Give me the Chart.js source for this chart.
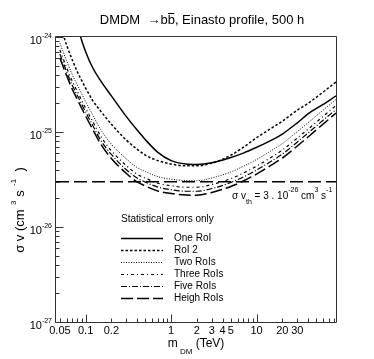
<!DOCTYPE html>
<html><head><meta charset="utf-8">
<script src="https://cdn.jsdelivr.net/npm/chart.js@4/dist/chart.umd.min.js"></script>
<style>html,body{margin:0;padding:0;background:#fff;overflow:hidden}</style>
</head><body><canvas id="c" width="374" height="359"></canvas>
<script>
// ---- data ----
const massOne = [0.08, 0.09, 0.1, 0.12, 0.15, 0.2, 0.3, 0.4, 0.5, 0.7, 1, 1.5, 2, 3, 5, 7, 10, 15, 20, 30, 40, 60, 85];
const oneRoI  = [1.35e-24, 9.2e-25, 7.0e-25, 4.8e-25, 3.45e-25, 2.4e-25, 1.45e-25, 1.05e-25, 8.3e-26, 6.1e-26, 5.0e-26, 4.6e-26, 4.55e-26, 4.75e-26, 5.4e-26, 6.0e-26, 6.9e-26, 8.2e-26, 9.5e-26, 1.25e-25, 1.55e-25, 1.95e-25, 2.4e-25];

const massAll = [0.05, 0.06, 0.07, 0.08, 0.1, 0.12, 0.15, 0.2, 0.3, 0.4, 0.5, 0.7, 1, 1.5, 2, 3, 5, 7, 10, 15, 20, 30, 40, 60, 85];
const roi2     = [1.34e-24, 8.2e-25, 5.7e-25, 4.3e-25, 2.9e-25, 2.17e-25, 1.66e-25, 1.21e-25, 8.2e-26, 6.6e-26, 5.7e-26, 5.0e-26, 4.6e-26, 4.4e-26, 4.4e-26, 4.7e-26, 5.7e-26, 6.9e-26, 8.7e-26, 1.1e-25, 1.3e-25, 1.7e-25, 2.0e-25, 2.63e-25, 3.36e-25];
const twoRoIs  = [8.6e-25, 5.6e-25, 4.0e-25, 3.13e-25, 2.09e-25, 1.53e-25, 1.06e-25, 7.45e-26, 5.2e-26, 4.23e-26, 3.83e-26, 3.39e-26, 3.19e-26, 3.08e-26, 3.07e-26, 3.28e-26, 3.8e-26, 4.35e-26, 5.13e-26, 6.4e-26, 7.55e-26, 1.01e-25, 1.25e-25, 1.7e-25, 2.2e-25];
const threeRoIs= [7.3e-25, 4.75e-25, 3.4e-25, 2.67e-25, 1.78e-25, 1.31e-25, 9.05e-26, 6.35e-26, 4.42e-26, 3.6e-26, 3.27e-26, 2.89e-26, 2.72e-26, 2.62e-26, 2.62e-26, 2.8e-26, 3.23e-26, 3.7e-26, 4.37e-26, 5.45e-26, 6.45e-26, 8.65e-26, 1.07e-25, 1.46e-25, 1.9e-25];
const fiveRoIs = [6.6e-25, 4.3e-25, 3.08e-25, 2.42e-25, 1.62e-25, 1.19e-25, 8.2e-26, 5.8e-26, 4.0e-26, 3.28e-26, 2.97e-26, 2.63e-26, 2.47e-26, 2.38e-26, 2.38e-26, 2.54e-26, 2.94e-26, 3.36e-26, 3.97e-26, 4.95e-26, 5.85e-26, 7.85e-26, 9.75e-26, 1.33e-25, 1.72e-25];
const heighRoIs= [6.0e-25, 3.9e-25, 2.8e-25, 2.2e-25, 1.47e-25, 1.08e-25, 7.48e-26, 5.26e-26, 3.66e-26, 2.98e-26, 2.7e-26, 2.39e-26, 2.25e-26, 2.17e-26, 2.16e-26, 2.31e-26, 2.67e-26, 3.05e-26, 3.61e-26, 4.5e-26, 5.32e-26, 7.13e-26, 8.86e-26, 1.21e-25, 1.58e-25];

const thresholdMass = [0.045, 85];
const thresholdValue = [3e-26, 3e-26];

const seriesNames = ["One RoI", "RoI 2", "Two RoIs", "Three RoIs", "Five RoIs", "Heigh RoIs"];

const xRange = [0.045, 85];
const yRange = [1e-27, 1e-24];
const xMajorTicks = [0.1, 1, 10];
const xMinorTicks = [0.05,0.06,0.07,0.08,0.09,0.2,0.3,0.4,0.5,0.6,0.7,0.8,0.9,2,3,4,5,6,7,8,9,20,30,40,50,60,70,80];
const xTickValues = [0.05, 0.1, 0.2, 1, 2, 3, 4, 5, 10, 20, 30];
const xTickLabels = ["0.05", "0.1", "0.2", "1", "2", "3", "4", "5", "10", "20", "30"];
const yMajorTicks = [1e-27, 1e-26, 1e-25, 1e-24];
const yTickExponents = ["-27", "-26", "-25", "-24"];
const yMinorMult = [2,3,4,5,6,7,8,9];

const FONT = "'Liberation Sans', Arial, Helvetica, sans-serif";

function pts(xs, ys){ return xs.map((x,i)=>({x:x, y:ys[i]})); }

function rich(ctx, parts, x, y, align){
  let w = 0;
  parts.forEach(p=>{ ctx.font = p.s + "px " + FONT; p.w = ctx.measureText(p.t).width; w += p.w; });
  let cx = align === 'center' ? x - w/2 : (align === 'right' ? x - w : x);
  parts.forEach(p=>{ ctx.font = p.s + "px " + FONT; ctx.textAlign='left'; ctx.textBaseline='alphabetic'; ctx.fillText(p.t, cx, y + (p.dy||0)); cx += p.w; });
  return w;
}

const decor = {
  id: 'decor',
  afterDraw(chart){
    const ctx = chart.ctx, xs = chart.scales.x, ys = chart.scales.y, a = chart.chartArea;
    ctx.save();
    ctx.fillStyle = '#000';
    ctx.strokeStyle = '#333';
    ctx.lineWidth = 1;
    const L = Math.round(a.left) - 0.5, R = Math.round(a.right) + 0.5, T = Math.round(a.top) - 0.5, B = Math.round(a.bottom) + 0.5;
    ctx.beginPath(); ctx.rect(L, T, R - L, B - T); ctx.stroke();
    // x ticks
    ctx.beginPath();
    xMajorTicks.forEach(v=>{ const px = Math.round(xs.getPixelForValue(v)) + 0.5; ctx.moveTo(px, B); ctx.lineTo(px, B - 8); });
    xMinorTicks.forEach(v=>{ const px = Math.round(xs.getPixelForValue(v)) + 0.5; ctx.moveTo(px, B); ctx.lineTo(px, B - 4); });
    // y ticks
    yMajorTicks.forEach(v=>{ const py = Math.round(ys.getPixelForValue(v)) + 0.5; ctx.moveTo(L, py); ctx.lineTo(L + 8, py); });
    yMajorTicks.slice(0,3).forEach(d=>{ yMinorMult.forEach(m=>{ const py = Math.round(ys.getPixelForValue(d*m)) + 0.5; ctx.moveTo(L, py); ctx.lineTo(L + 4, py); }); });
    ctx.stroke();
    // x tick labels
    ctx.font = "11px " + FONT; ctx.textAlign = 'center'; ctx.textBaseline = 'alphabetic';
    xTickValues.forEach((v,i)=>{ ctx.fillText(xTickLabels[i], xs.getPixelForValue(v), B + 11); });
    // y tick labels
    yMajorTicks.forEach((v,i)=>{ const py = ys.getPixelForValue(v);
      rich(ctx, [{t:"10", s:11, dy:0},{t:yTickExponents[i], s:7, dy:-6}], 52, py + 7, 'right'); });
    // title
    const tparts = [{t:"DMDM  \u2192b", s:13},{t:"b", s:13},{t:", Einasto profile, 500 h", s:13}];
    const tw = rich(ctx, tparts, 202, 24, 'center');
    const tx0 = 202 - tw/2 + tparts[0].w;
    ctx.strokeStyle = '#000'; ctx.lineWidth = 1;
    ctx.beginPath(); ctx.moveTo(tx0 + 0.5, 13.5); ctx.lineTo(tx0 + tparts[1].w - 0.5, 13.5); ctx.stroke();
    // x title
    rich(ctx, [{t:"m", s:12},{t:" DM", s:8, dy:7},{t:" (TeV)", s:12}], 196, 347, 'center');
    // y title
    ctx.save(); ctx.translate(24, 210); ctx.rotate(-Math.PI/2);
    rich(ctx, [{t:"\u03c3 v (cm", s:13},{t:"  3", s:8, dy:-8},{t:" s", s:13},{t:"  -1", s:8, dy:-8},{t:"  )", s:13}], 0, 0, 'center');
    ctx.restore();
    // threshold annotation
    rich(ctx, [{t:"\u03c3 v", s:10},{t:"th", s:7, dy:5},{t:" = 3 . 10", s:10},{t:"-26", s:7, dy:-7},{t:" cm", s:10},{t:"3", s:7, dy:-7},{t:" s", s:10},{t:"-1", s:7, dy:-7}], 232, 199, 'left');
    // legend
    ctx.font = "10px " + FONT; ctx.textAlign = 'left'; ctx.textBaseline = 'middle';
    ctx.fillText("Statistical errors only", 121, 219);
    seriesNames.forEach((n,i)=>{
      const ds = chart.data.datasets[i];
      const y = 238 + 12*i;
      ctx.save();
      ctx.strokeStyle = ds.borderColor; ctx.lineWidth = ds.borderWidth; ctx.setLineDash(ds.borderDash || []);
      ctx.beginPath(); ctx.moveTo(121, y + 0.5); ctx.lineTo(163, y + 0.5); ctx.stroke();
      ctx.restore();
      ctx.fillText(n, 174, y);
    });
    ctx.restore();
  }
};

const common = {fill:false, pointRadius:0, cubicInterpolationMode:'monotone', borderColor:'#000'};
new Chart(document.getElementById('c'), {
  type: 'line',
  data: { datasets: [
    Object.assign({label:seriesNames[0], data:pts(massOne, oneRoI), borderWidth:1.5, borderDash:[]}, common),
    Object.assign({label:seriesNames[1], data:pts(massAll, roi2), borderWidth:1.5, borderDash:[2.5,2]}, common),
    Object.assign({label:seriesNames[2], data:pts(massAll, twoRoIs), borderWidth:1, borderDash:[1,1.5]}, common),
    Object.assign({label:seriesNames[3], data:pts(massAll, threeRoIs), borderWidth:1.2, borderDash:[3,3,1,3]}, common),
    Object.assign({label:seriesNames[4], data:pts(massAll, fiveRoIs), borderWidth:1.2, borderDash:[6,2,1,2]}, common),
    Object.assign({label:seriesNames[5], data:pts(massAll, heighRoIs), borderWidth:1.5, borderDash:[12,4]}, common),
    Object.assign({label:'threshold', data:pts(thresholdMass, thresholdValue), borderWidth:1.5, borderDash:[13,5]}, common)
  ]},
  options: {
    responsive:false, animation:false, devicePixelRatio:1,
    layout:{padding:{left:56, right:38, top:37, bottom:37}},
    plugins:{legend:{display:false}, tooltip:{enabled:false}},
    scales:{
      x:{type:'logarithmic', min:xRange[0], max:xRange[1], display:false},
      y:{type:'logarithmic', min:yRange[0], max:yRange[1], display:false}
    }
  },
  plugins:[decor]
});
</script></body></html>
